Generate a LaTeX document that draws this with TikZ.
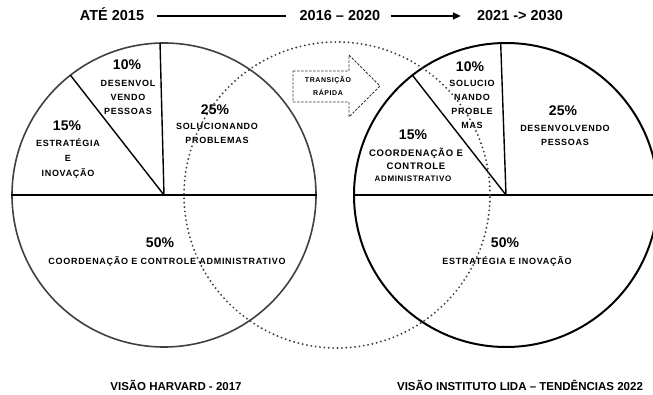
\documentclass[tikz,border=0pt]{standalone}
\usepackage{fontspec}
\setmainfont{Liberation Sans}
\newfontfamily\trackedfont[LetterSpace=8]{Liberation Sans}
\usetikzlibrary{arrows.meta}
\begin{document}
\begin{tikzpicture}[x=1pt,y=-1pt,
  head/.style={font=\bfseries\fontsize{14.5}{14.5}\selectfont, inner sep=0pt, text height=10pt, text depth=0pt},
  foot/.style={font=\bfseries\fontsize{11.5}{11.5}\selectfont, inner sep=0pt},
  pct/.style={font=\bfseries\fontsize{14}{14}\selectfont, inner sep=0pt},
  lbl/.style={font=\trackedfont\bfseries\fontsize{9}{14}\selectfont, align=center, inner sep=0pt},
  tiny/.style={font=\trackedfont\bfseries\fontsize{7}{13}\selectfont, align=center, inner sep=0pt},
  timeline/.style={line width=1.5pt, black},
  leftrim/.style={line width=1.6pt, black!75},
  rightrim/.style={line width=2pt, black},
  slice/.style={line width=1.4pt, black},
  dotring/.style={line width=2.1pt, black!75, dash pattern=on 0pt off 4.4pt, line cap=round},
  transit/.style={line width=0.8pt, black!80, dash pattern=on 2.5pt off 1.5pt}
]
\useasboundingbox (0,0) rectangle (653,395);

% ---- time line along the top ----
\node[head] (y1) at (112,16) {ATÉ 2015};
\node[head] (y2) at (340,16) {2016 – 2020};
\node[head] (y3) at (520,16) {2021 -> 2030};
\draw[timeline, shorten <=13pt, shorten >=13pt] (y1.east) -- (y2.west);
\draw[timeline, -{Triangle[length=8pt,width=7pt]}, shorten <=10pt, shorten >=16pt] (y2.east) -- (y3.west);

% ---- centres ----
\coordinate (LC) at (164,195);
\coordinate (RC) at (506,195);
\coordinate (DC) at (337,195);

% ---- left pie (Harvard 2017) ----
\draw[leftrim] (LC) circle[radius=152pt];
\draw[slice] ([xshift=-153pt]LC) -- ([xshift=153pt]LC);
\draw[slice] (LC) -- ++(-91.5:152);
\draw[slice] (LC) -- ++(-128:152);

% ---- right pie (Instituto Lida 2022) ----
\draw[rightrim] (RC) circle[radius=152pt];
\draw[slice] ([xshift=-153pt]RC) -- ([xshift=160pt]RC);
\draw[slice] (RC) -- ++(-92:152);
\draw[slice] (RC) -- ++(-128:152);

% ---- labels, left pie ----
\node[pct] (l10) at (127,65) {10\%};
\node[lbl] (l10t) at (128,97) {DESENVOL\\VENDO\\PESSOAS};
\node[pct] (l15) at (67,126) {15\%};
\node[lbl, font=\trackedfont\bfseries\fontsize{9}{15}\selectfont] (l15t) at (68,158) {ESTRATÉGIA\\E\\INOVAÇÃO};
\node[pct] (l25) at (215,110) {25\%};
\node[lbl] (l25t) at (217,133) {SOLUCIONANDO\\PROBLEMAS};
\node[pct] (l50) at (160,243) {50\%};
\node[lbl] (l50t) at (167,261) {COORDENAÇÃO E CONTROLE ADMINISTRATIVO};

% ---- labels, right pie ----
\node[pct] (r10) at (470,67) {10\%};
\node[lbl] (r10t) at (472,104.5) {SOLUCIO\\NANDO\\PROBLE\\MAS};
\node[pct] (r15) at (413,135) {15\%};
\node[lbl, font=\trackedfont\bfseries\fontsize{9.5}{13}\selectfont] (r15t) at (416,158.5) {COORDENAÇÃO E\\CONTROLE};
\node[lbl, font=\trackedfont\bfseries\fontsize{8}{8}\selectfont] (r15a) at (413,179) {ADMINISTRATIVO};
\node[pct] (r25) at (563,111) {25\%};
\node[lbl] (r25t) at (565,135) {DESENVOLVENDO\\PESSOAS};
\node[pct] (r50) at (505,243) {50\%};
\node[lbl] (r50t) at (507,261) {ESTRATÉGIA E INOVAÇÃO};

% ---- transition ring and arrow ----
\draw[dotring] (DC) circle[radius=153pt];
\draw[transit] (293,71) -- (349,71) -- (349,55) -- (380,86) -- (349,117) -- (349,102) -- (293,102) -- cycle;
\node[tiny] (trans) at (328,85.5) {TRANSIÇÃO\\RÁPIDA};

% ---- captions ----
\node[foot] (capL) at (176,385) {VISÃO HARVARD - 2017};
\node[foot] (capR) at (520,385) {VISÃO INSTITUTO LIDA – TENDÊNCIAS 2022};
\end{tikzpicture}
\end{document}
